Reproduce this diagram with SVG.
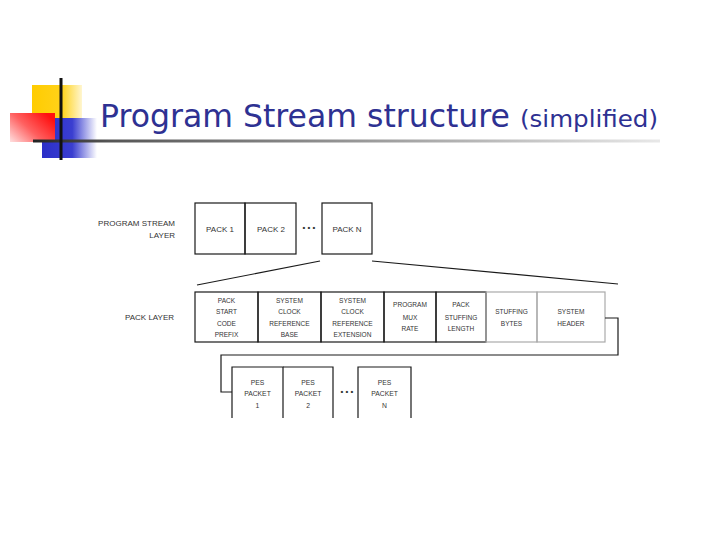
<svg xmlns="http://www.w3.org/2000/svg" width="720" height="540" viewBox="0 0 720 540">
<defs>
<linearGradient id="gy" x1="0" y1="0" x2="1" y2="0"><stop offset="0" stop-color="#FFCC00"/><stop offset="0.6" stop-color="#FFD21A"/><stop offset="1" stop-color="#FFF6D0"/></linearGradient>
<linearGradient id="gb" x1="0" y1="0" x2="1" y2="0"><stop offset="0" stop-color="#2B2FC8"/><stop offset="0.55" stop-color="#3A3ED0"/><stop offset="1" stop-color="#FFFFFF"/></linearGradient>
<linearGradient id="gr" x1="1" y1="0.3" x2="0" y2="1"><stop offset="0" stop-color="#FF1010"/><stop offset="0.5" stop-color="#FF6060"/><stop offset="1" stop-color="#FFE0E0"/></linearGradient>
<linearGradient id="gl" x1="0" y1="0" x2="1" y2="0"><stop offset="0" stop-color="#222222"/><stop offset="0.12" stop-color="#555555"/><stop offset="1" stop-color="#E8E8E8"/></linearGradient>
<style>
.t{font-family:"Liberation Sans",Arial,sans-serif;font-size:8px;fill:#333;}
.c{text-anchor:middle;}
.r{text-anchor:end;}
.bx{fill:none;stroke:#1a1a1a;stroke-width:1.2;}
.gx{fill:none;stroke:#aaaaaa;stroke-width:1.2;}
.ln{fill:none;stroke:#1a1a1a;stroke-width:1.2;}
.title{font-family:"DejaVu Sans",Tahoma,sans-serif;fill:#2E3192;}
</style>
</defs>
<g id="decoration">
<rect x="32" y="85" width="50" height="50" fill="url(#gy)"/>
<rect x="42" y="118" width="55" height="40" fill="url(#gb)"/>
<rect x="10" y="113" width="45" height="29" fill="url(#gr)"/>
<rect x="33" y="139.5" width="627" height="3" fill="url(#gl)"/>
<rect x="59.5" y="78" width="3" height="82" fill="#111"/>
</g>
<g id="title">
<text class="title" x="100" y="127" font-size="31.5" textLength="410" lengthAdjust="spacingAndGlyphs">Program Stream structure</text>
<text class="title" x="520" y="127" font-size="23" textLength="138" lengthAdjust="spacingAndGlyphs">(simplified)</text>
</g>
<g id="labels">
<text class="t r" x="175" y="226">PROGRAM  STREAM</text>
<text class="t r" x="175" y="238">LAYER</text>
<text class="t" x="125" y="320">PACK  LAYER</text>
</g>
<g id="program-stream">
<g id="pack1"><rect class="bx" x="195" y="203" width="50" height="51"/><text class="t c" x="220" y="232">PACK 1</text></g>
<g id="pack2"><rect class="bx" x="245" y="203" width="51" height="51"/><text class="t c" x="271" y="232">PACK 2</text></g>
<g id="dots1"><text class="t c" x="309" y="230" font-weight="bold">• • •</text></g>
<g id="packN"><rect class="bx" x="322" y="203" width="50" height="51"/><text class="t c" x="347" y="232">PACK N</text></g>
</g>
<g id="pack-layer">
<g id="f1"><rect class="bx" x="195" y="292" width="63" height="50"/></g>
<g id="f2"><rect class="bx" x="258" y="292" width="63" height="50"/></g>
<g id="f3"><rect class="bx" x="321" y="292" width="63" height="50"/></g>
<g id="f4"><rect class="bx" x="384" y="292" width="52" height="50"/></g>
<g id="f5"><rect class="bx" x="436" y="292" width="50" height="50"/></g>
<g id="f6"><rect class="gx" x="486" y="292" width="51" height="50"/></g>
<g id="f7"><rect class="gx" x="537" y="292" width="68" height="50"/></g>
<g transform="scale(0.82,1)">
<text class="t c" x="276.2" y="303">PACK</text>
<text class="t c" x="276.2" y="314.5">START</text>
<text class="t c" x="276.2" y="326">CODE</text>
<text class="t c" x="276.2" y="337">PREFIX</text>
<text class="t c" x="353" y="303">SYSTEM</text>
<text class="t c" x="353" y="314.5">CLOCK</text>
<text class="t c" x="353" y="326">REFERENCE</text>
<text class="t c" x="353" y="337">BASE</text>
<text class="t c" x="429.9" y="303">SYSTEM</text>
<text class="t c" x="429.9" y="314.5">CLOCK</text>
<text class="t c" x="429.9" y="326">REFERENCE</text>
<text class="t c" x="429.9" y="337">EXTENSION</text>
<text class="t c" x="500" y="307.5">PROGRAM</text>
<text class="t c" x="500" y="320">MUX</text>
<text class="t c" x="500" y="331">RATE</text>
<text class="t c" x="562.2" y="307.5">PACK</text>
<text class="t c" x="562.2" y="320">STUFFING</text>
<text class="t c" x="562.2" y="331">LENGTH</text>
<text class="t c" x="623.8" y="314.5">STUFFING</text>
<text class="t c" x="623.8" y="326">BYTES</text>
<text class="t c" x="696.3" y="314.5">SYSTEM</text>
<text class="t c" x="696.3" y="326">HEADER</text>
</g>
</g>
<g id="pes-layer">
<g id="pes1"><path class="ln" d="M232,418 V367 H283 V418"/></g>
<g id="pes2"><path class="ln" d="M283,367 H333 V418"/></g>
<g id="dots2"><text class="t c" x="347" y="394" font-weight="bold">• • •</text></g>
<g id="pesN"><path class="ln" d="M358,418 V367 H411 V418"/></g>
<g transform="scale(0.85,1)">
<text class="t c" x="302.9" y="385">PES</text>
<text class="t c" x="302.9" y="396.5">PACKET</text>
<text class="t c" x="302.9" y="408">1</text>
<text class="t c" x="362.4" y="385">PES</text>
<text class="t c" x="362.4" y="396.5">PACKET</text>
<text class="t c" x="362.4" y="408">2</text>
<text class="t c" x="452.4" y="385">PES</text>
<text class="t c" x="452.4" y="396.5">PACKET</text>
<text class="t c" x="452.4" y="408">N</text>
</g>
</g>
<g id="connectors">
<line class="ln" x1="197" y1="285" x2="320" y2="261"/>
<line class="ln" x1="372" y1="261" x2="618" y2="284"/>
<path class="ln" d="M605,318 H618 V355 H221 V392 H232"/>
</g>
</svg>
